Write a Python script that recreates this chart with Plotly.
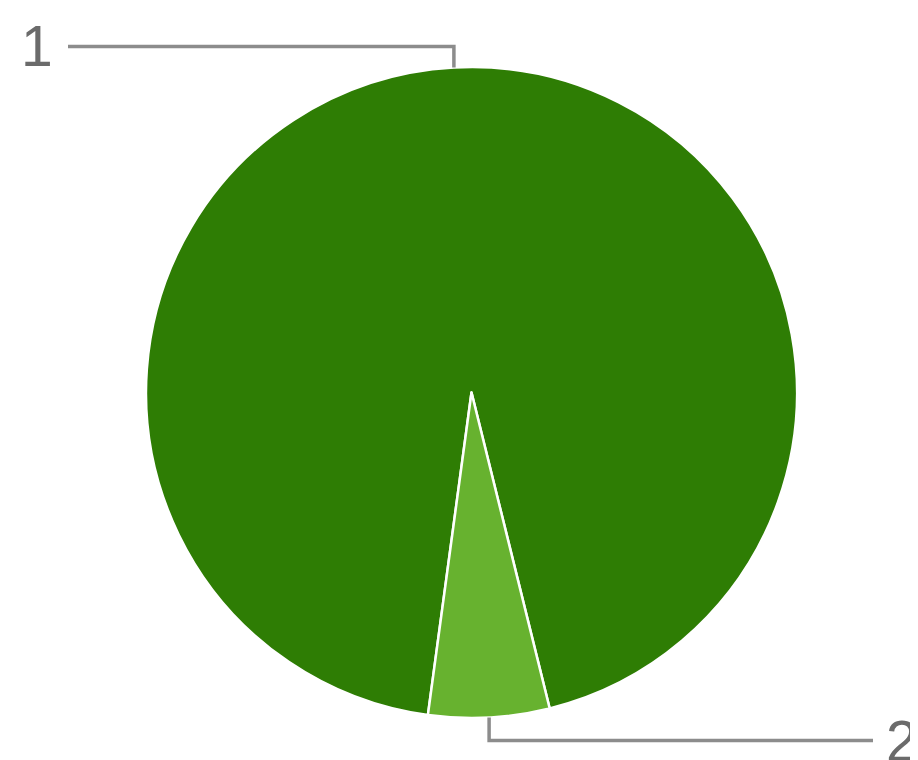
import math
import plotly.graph_objects as go

labels = ["1", "2"]
values = [94, 6]
colors = ["#2e7d04", "#67b22f"]

W, H = 918, 760
OFF = 8  # page body margin of the browser
cx, cy, r = 471.5 - OFF, 392.5 - OFF, 325.5
rotation = 187.7  # start of first slice, clockwise from 12 o'clock

fig = go.Figure(go.Pie(
    labels=labels, values=values, sort=False, direction="clockwise",
    rotation=rotation, textinfo="none", hoverinfo="label+value+percent",
    marker=dict(colors=colors, line=dict(color="white", width=2.5)),
    domain=dict(x=[(cx - r) / W, (cx + r) / W],
                y=[(H - cy - r) / H, (H - cy + r) / H]),
    showlegend=False,
))

def px(x, y):
    return x / W, 1 - y / H

total = sum(values)
start = rotation
mids = []
for v in values:
    span = v / total * 360
    mids.append(start + span / 2)
    start += span

line_style = dict(color="#8c8c8c", width=3.5)
shapes, annotations = [], []
for i, (lab, ang) in enumerate(zip(labels, mids)):
    a = math.radians(ang)
    ax_ = cx + r * math.sin(a)
    ay_ = cy - r * math.cos(a)
    if i == 0:
        ey, ex, tx, anchor = ay_ - 21, 68 - OFF, 55 - OFF, "right"
    else:
        ey, ex, tx, anchor = ay_ + 23, 873 - OFF, 884 - OFF, "left"
    pts = [(ax_, ay_), (ax_, ey), (ex, ey)]
    path = "M " + " L ".join(f"{px(x, y)[0]},{px(x, y)[1]}" for x, y in pts)
    shapes.append(dict(type="path", path=path, xref="paper", yref="paper",
                       line=line_style))
    tx_p, ty_p = px(tx, ey)
    annotations.append(dict(text=lab, x=tx_p, y=ty_p, xref="paper", yref="paper",
                            xanchor=anchor, yanchor="middle", showarrow=False,
                            font=dict(family="Liberation Sans, Arial", size=57,
                                      color="#6b6b6b")))

fig.update_layout(
    width=W, height=H, margin=dict(l=0, r=0, t=0, b=0),
    paper_bgcolor="white", plot_bgcolor="white",
    shapes=shapes, annotations=annotations,
)
fig.write_html("out.html")
